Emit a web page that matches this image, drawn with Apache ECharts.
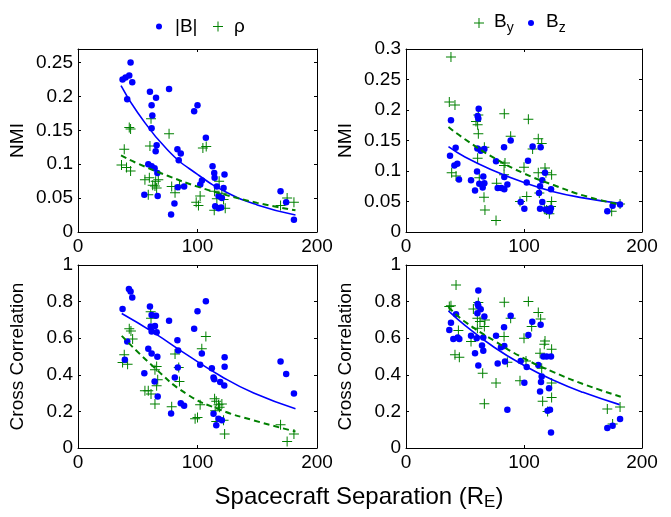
<!DOCTYPE html>
<html><head><meta charset="utf-8">
<script src="https://cdn.jsdelivr.net/npm/echarts@6/dist/echarts.min.js"></script>
<style>html,body{margin:0;padding:0;background:#fff}#c{width:671px;height:517px}</style>
</head><body><div id="c"></div>
<script>
// ---------- data ----------
const xTicks = [0, 100, 200];
const yTicksNMIleft = [0, 0.05, 0.1, 0.15, 0.2, 0.25];
const yTicksNMIright = [0, 0.05, 0.1, 0.15, 0.2, 0.25, 0.3];
const yTicksCC = [0, 0.2, 0.4, 0.6, 0.8, 1];
const yNames = ['NMI', 'NMI', 'Cross Correlation', 'Cross Correlation'];

// Top-left: NMI, |B| (blue dots) and rho (green plus)
const nmiB = [[37.3,0.225],[39.8,0.228],[42.9,0.231],[44.0,0.250],[45.4,0.221],[41.2,0.196],
 [60.2,0.207],[61.6,0.187],[65.3,0.198],[62.2,0.172],[61.6,0.153],[65.8,0.128],[65.0,0.119],
 [76.2,0.211],[97.2,0.178],[100.0,0.187],[107.0,0.139],[83.2,0.122],[86.0,0.116],[84.3,0.106],
 [58.8,0.100],[61.6,0.097],[64.1,0.094],[66.4,0.087],[66.7,0.053],[55.5,0.055],
 [77.9,0.026],[80.7,0.042],[88.8,0.067],[83.5,0.066],
 [102.3,0.070],[103.7,0.076],[112.6,0.097],[114.0,0.087],[114.3,0.080],[122.6,0.085],
 [116.2,0.067],[121.8,0.065],[117.6,0.053],[120.4,0.050],[114.8,0.038],[117.6,0.035],[119.8,0.036],
 [169.5,0.060],[174.2,0.044],[180.7,0.018]];
const nmiRho = [[38.7,0.122],[36.4,0.099],[40.6,0.095],[44.0,0.090],[42.9,0.154],[44.0,0.152],
 [61.1,0.167],[60.2,0.127],[76.2,0.145],[104.5,0.124],[107.3,0.126],
 [56.0,0.077],[59.7,0.080],[58.8,0.055],[62.5,0.069],[64.4,0.068],[65.8,0.065],[67.2,0.077],[65.0,0.075],
 [78.4,0.067],[81.2,0.058],[84.9,0.069],[98.9,0.044],[102.2,0.053],[100.8,0.039],
 [114.3,0.060],[118.1,0.075],[114.0,0.032],[116.2,0.049],[120.4,0.057],[123.2,0.035],[121.8,0.048],
 [169.5,0.039],[175.0,0.050],[180.7,0.044]];
const nmiBFit = [[36,0.216],[50,0.176],[75,0.121],[100,0.085],[125,0.058],[150,0.040],[182,0.025]];
const nmiRhoFit = [[36,0.113],[50,0.101],[75,0.083],[100,0.067],[125,0.054],[150,0.043],[182,0.032]];

// Top-right: NMI, By (green plus) and Bz (blue dots)
const nmiBy = [[38.1,0.287],[36.7,0.213],[41.5,0.208],[38.7,0.097],[42.4,0.092],
 [61.3,0.192],[59.3,0.181],[60.7,0.176],[61.3,0.161],[60.7,0.121],[66.4,0.139],[62.1,0.089],
 [66.1,0.057],[66.9,0.036],[76.3,0.019],[83.3,0.194],[83.9,0.113],[83.1,0.109],[76.8,0.080],[83.1,0.094],
 [88.7,0.157],[103.7,0.185],[100.0,0.106],[96.6,0.050],[102.3,0.058],
 [112.1,0.153],[115.0,0.145],[107.3,0.136],[112.1,0.097],[117.8,0.105],[118.6,0.097],[123.4,0.094],
 [113.0,0.064],[119.2,0.036],[121.5,0.030],[123.4,0.050],[122.9,0.042],[117.2,0.038],
 [174.3,0.034],[181.4,0.046]];
const nmiBz = [[38.1,0.183],[37.3,0.125],[42.1,0.138],[41.0,0.109],[43.5,0.112],[44.9,0.086],
 [55.1,0.085],[58.5,0.068],[61.6,0.202],[60.7,0.190],[61.3,0.186],[60.5,0.137],[63.3,0.133],[66.4,0.136],
 [60.2,0.099],[62.1,0.079],[65.0,0.073],[65.5,0.091],[66.4,0.080],
 [76.3,0.116],[77.7,0.072],[80.8,0.072],[83.3,0.070],[85.9,0.078],[83.3,0.090],[83.1,0.139],[88.7,0.150],
 [97.2,0.049],[100.3,0.038],[102.3,0.081],[103.4,0.117],[107.3,0.140],[114.1,0.139],[115.5,0.085],
 [113.6,0.075],[112.7,0.064],[117.8,0.097],[115.5,0.049],[113.6,0.038],
 [118.5,0.037],[120.5,0.035],[122.0,0.034],[122.8,0.039],[122.9,0.070],
 [170.6,0.034],[175.1,0.043],[181.4,0.045]];
const nmiByFit = [[36,0.172],[50,0.152],[75,0.121],[100,0.096],[125,0.077],[150,0.060],[181,0.045]];
const nmiBzFit = [[36,0.140],[50,0.123],[75,0.100],[100,0.081],[125,0.066],[150,0.056],[181,0.047]];

// Bottom-left: Cross correlation, |B| and rho
const ccB = [[37.3,0.760],[39.2,0.482],[41.2,0.582],[42.6,0.869],[44.0,0.855],[45.4,0.822],
 [60.2,0.773],[61.6,0.727],[65.3,0.722],[60.8,0.664],[64.4,0.667],[61.6,0.636],[65.8,0.633],
 [58.8,0.542],[61.6,0.516],[66.4,0.498],[55.5,0.409],[64.1,0.364],[66.7,0.282],
 [76.2,0.696],[83.2,0.589],[83.8,0.533],[83.5,0.440],[81.0,0.385],[86.0,0.245],[88.8,0.231],[77.9,0.189],
 [97.2,0.651],[100.0,0.747],[107.0,0.802],[103.6,0.516],[102.2,0.455],
 [112.0,0.436],[113.4,0.385],[114.0,0.376],[119.0,0.360],[122.4,0.342],[122.7,0.496],[122.7,0.444],
 [113.4,0.187],[115.7,0.124],[117.6,0.160],[120.4,0.151],
 [169.5,0.473],[174.2,0.404],[180.7,0.298]];
const ccRho = [[37.3,0.467],[38.7,0.509],[41.5,0.458],[42.9,0.651],[44.3,0.640],[45.7,0.595],
 [60.8,0.745],[61.1,0.709],[65.8,0.445],[64.4,0.427],[66.7,0.373],[65.8,0.340],
 [56.0,0.313],[58.8,0.313],[61.1,0.295],[64.4,0.240],
 [81.2,0.513],[84.3,0.440],[84.9,0.364],[78.4,0.225],
 [98.0,0.160],[100.0,0.167],[102.2,0.236],[103.6,0.542],[107.0,0.609],
 [114.3,0.269],[115.7,0.255],[117.6,0.236],[118.5,0.222],[120.4,0.240],[114.8,0.204],[115.7,0.145],[121.8,0.151],[122.7,0.076],
 [169.5,0.127],[175.0,0.036],[180.7,0.076]];
const ccBFit = [[36.6,0.735],[63,0.632],[91,0.510],[119,0.395],[147,0.300],[182,0.215]];
const ccRhoFit = [[36.6,0.613],[63,0.445],[91,0.295],[119,0.209],[147,0.151],[182,0.090]];

// Bottom-right: Cross correlation, By and Bz
const ccBy = [[38.1,0.778],[36.7,0.773],[42.4,0.891],[44.4,0.642],[41.5,0.509],[45.2,0.496],
 [57.1,0.760],[61.3,0.795],[60.5,0.709],[62.7,0.691],[66.9,0.700],[60.5,0.655],[66.4,0.664],[55.1,0.582],
 [65.0,0.409],[66.4,0.242],[76.3,0.355],[83.3,0.796],[83.1,0.609],[85.9,0.469],[88.7,0.709],
 [96.6,0.367],[100.0,0.600],[103.7,0.800],[101.7,0.476],[106.5,0.664],
 [112.1,0.740],[114.1,0.705],[113.6,0.518],[117.2,0.567],[117.8,0.585],[123.4,0.540],
 [115.0,0.436],[123.4,0.355],[123.4,0.276],[115.8,0.255],[120.0,0.200],
 [170.6,0.213],[175.1,0.131],[181.4,0.224]];
const ccBz = [[36.7,0.645],[38.1,0.685],[42.4,0.731],[40.1,0.595],[43.8,0.604],[45.2,0.595],
 [61.3,0.860],[60.7,0.787],[61.3,0.776],[60.5,0.736],[63.3,0.758],[66.4,0.718],
 [55.1,0.613],[59.9,0.600],[65.5,0.604],[58.5,0.518],[61.3,0.451],[64.4,0.560],[65.5,0.531],
 [76.3,0.613],[77.7,0.462],[80.5,0.551],[83.3,0.558],[83.1,0.660],[83.9,0.473],[85.9,0.209],[88.7,0.722],
 [97.2,0.476],[100.3,0.356],[102.3,0.442],[103.7,0.618],[107.0,0.690],
 [114.1,0.673],[112.1,0.454],[116.4,0.500],[119.2,0.500],[122.9,0.500],[115.0,0.391],[114.4,0.360],[113.6,0.309],[121.2,0.327],
 [120.0,0.204],[122.0,0.209],[122.9,0.085],
 [170.6,0.109],[175.1,0.122],[181.4,0.158]];
const ccByFit = [[36,0.770],[50,0.690],[75,0.585],[100,0.490],[125,0.415],[150,0.350],[182,0.280]];
const ccBzFit = [[36,0.749],[50,0.670],[75,0.549],[100,0.451],[125,0.370],[150,0.304],[181,0.237]];

// ---------- chart ----------
const FONT = 'Liberation Sans';
const BLUE = '#0000ff', GREEN = '#008000';
const PLUS = 'path://M4.5,0H5.5V4.5H10V5.5H5.5V10H4.5V5.5H0V4.5H4.5Z';
const grids = [
  {left: 78, top: 49, width: 239, height: 183},
  {left: 406, top: 49, width: 236, height: 183},
  {left: 78, top: 265, width: 239, height: 183},
  {left: 406, top: 265, width: 236, height: 183}
];
const yTickSets = [yTicksNMIleft, yTicksNMIright, yTicksCC, yTicksCC];
const yMax = [0.27, 0.3, 1, 1];

const xAxes = [], yAxes = [];
grids.forEach((g, i) => {
  const common = {gridIndex: i, type: 'value', min: xTicks[0], max: xTicks[xTicks.length - 1],
    interval: xTicks[1] - xTicks[0], splitLine: {show: false},
    axisLine: {show: true, onZero: false, lineStyle: {color: '#000', width: 1}},
    axisTick: {show: true, inside: true, length: 3, lineStyle: {color: '#000'}}};
  xAxes.push(Object.assign({}, common, {position: 'bottom',
    axisLabel: {color: '#000', fontSize: 19, fontFamily: FONT, margin: 5}}));
  xAxes.push(Object.assign({}, common, {position: 'top', axisLabel: {show: false}}));
  const t = yTickSets[i];
  const yc = {gridIndex: i, type: 'value', min: t[0], max: yMax[i], interval: t[1] - t[0],
    splitLine: {show: false},
    axisLine: {show: true, onZero: false, lineStyle: {color: '#000', width: 1}},
    axisTick: {show: true, inside: true, length: 3, lineStyle: {color: '#000'}}};
  yAxes.push(Object.assign({}, yc, {position: 'left', name: yNames[i], nameLocation: 'middle',
    nameGap: 51, nameTextStyle: {color: '#000', fontSize: 19, fontFamily: FONT},
    axisLabel: {color: '#000', fontSize: 19, fontFamily: FONT, margin: 5,
      showMaxLabel: yMax[i] === t[t.length - 1] ? true : false}}));
  yAxes.push(Object.assign({}, yc, {position: 'right', axisLabel: {show: false}}));
});

function dots(name, data, i) {
  return {type: 'scatter', name, data, xAxisIndex: 2 * i, yAxisIndex: 2 * i,
    symbol: 'circle', symbolSize: 6.5, itemStyle: {color: BLUE, opacity: 1}, silent: true, z: 2};
}
function pluses(name, data, i) {
  return {type: 'scatter', name, data, xAxisIndex: 2 * i, yAxisIndex: 2 * i,
    symbol: PLUS, symbolSize: 10, itemStyle: {color: GREEN, opacity: 1}, silent: true, z: 2};
}
function fit(data, i, color, dashed) {
  return {type: 'line', name: 'fit', data, xAxisIndex: 2 * i, yAxisIndex: 2 * i,
    smooth: true, showSymbol: false, symbol: 'none', silent: true, z: 3,
    lineStyle: {color, width: dashed ? 2 : 1.6, type: dashed ? [6, 4] : 'solid'}};
}

const series = [
  pluses('ρ', nmiRho, 0), dots('|B|', nmiB, 0), fit(nmiBFit, 0, BLUE, false), fit(nmiRhoFit, 0, GREEN, true),
  pluses('By', nmiBy, 1), dots('Bz', nmiBz, 1), fit(nmiBzFit, 1, BLUE, false), fit(nmiByFit, 1, GREEN, true),
  pluses('ρ', ccRho, 2), dots('|B|', ccB, 2), fit(ccBFit, 2, BLUE, false), fit(ccRhoFit, 2, GREEN, true),
  pluses('By', ccBy, 3), dots('Bz', ccBz, 3), fit(ccBzFit, 3, BLUE, false), fit(ccByFit, 3, GREEN, true)
];

const legText = {color: '#000', fontSize: 19, fontFamily: FONT};
const subRich = {
  m: {fontSize: 19, fontFamily: FONT, color: '#000', lineHeight: 22, verticalAlign: 'top'},
  s: {fontSize: 14, fontFamily: FONT, color: '#000', lineHeight: 22, verticalAlign: 'top', padding: [9, 0, 0, 0]}
};
const subFmt = n => n === 'By' ? '{m|B}{s|y}' : n === 'Bz' ? '{m|B}{s|z}' : n;
const legendBase = {orient: 'horizontal', padding: 0, selectedMode: false, symbolKeepAspect: true};
const legends = [
  Object.assign({}, legendBase, {data: [{name: '|B|', icon: 'circle'}], left: 156, top: 17, itemWidth: 22, itemHeight: 6, textStyle: legText}),
  Object.assign({}, legendBase, {data: [{name: 'ρ', icon: PLUS}], left: 213, top: 17, itemWidth: 22, itemHeight: 10, textStyle: legText}),
  Object.assign({}, legendBase, {data: [{name: 'By', icon: PLUS}], left: 474, top: 12, itemWidth: 20, itemHeight: 10, formatter: subFmt, textStyle: Object.assign({}, legText, {rich: subRich})}),
  Object.assign({}, legendBase, {data: [{name: 'Bz', icon: 'circle'}], left: 528, top: 12, itemWidth: 20, itemHeight: 6, formatter: subFmt, textStyle: Object.assign({}, legText, {rich: subRich})})
];

const chart = echarts.init(document.getElementById('c'), null, {renderer: 'canvas'});
chart.setOption({
  animation: false,
  backgroundColor: '#fff',
  textStyle: {fontFamily: FONT},
  grid: grids,
  xAxis: xAxes,
  yAxis: yAxes,
  legend: legends,
  series,
  graphic: [{
    type: 'text', x: 359, y: 499, silent: true,
    style: {
      text: '{m|Spacecraft Separation (R}{s|E}{m|)}',
      align: 'center', verticalAlign: 'middle',
      rich: {
        m: {fontSize: 24, fontFamily: FONT, fill: '#000', lineHeight: 28, verticalAlign: 'top'},
        s: {fontSize: 17, fontFamily: FONT, fill: '#000', lineHeight: 28, verticalAlign: 'top', padding: [9, 0, 0, 0]}
      }
    }
  }]
});
</script>
</body></html>
